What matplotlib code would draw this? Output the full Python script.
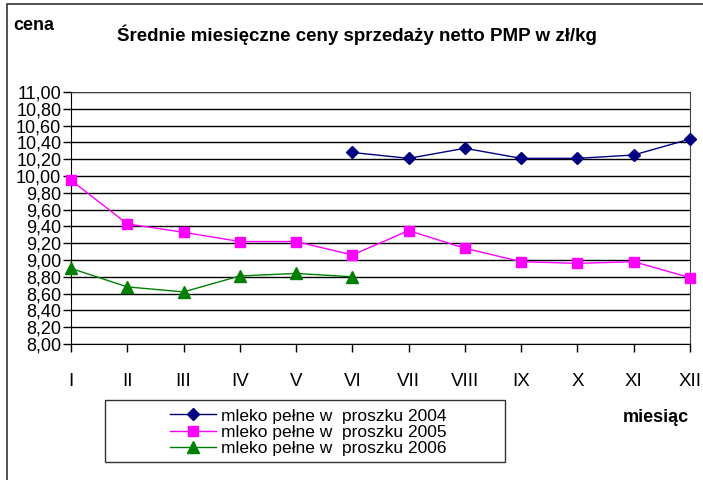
import matplotlib.pyplot as plt
from matplotlib.patches import Rectangle

plt.rcParams['font.family'] = ['Liberation Sans', 'DejaVu Sans']

months = ["I", "II", "III", "IV", "V", "VI", "VII", "VIII", "IX", "X", "XI", "XII"]
ceny_2004 = [None, None, None, None, None, 10.28, 10.21, 10.33, 10.21, 10.21, 10.25, 10.44]
ceny_2005 = [9.95, 9.43, 9.33, 9.22, 9.22, 9.06, 9.35, 9.14, 8.98, 8.96, 8.98, 8.79]
ceny_2006 = [8.90, 8.68, 8.62, 8.81, 8.84, 8.80]
yticks = [8.0 + 0.2 * i for i in range(16)]


def pts(vals):
    xs = [i for i, v in enumerate(vals) if v is not None]
    ys = [v for v in vals if v is not None]
    return xs, ys


fig = plt.figure(figsize=(7.03, 4.8), dpi=100)
ax = fig.add_axes([71 / 703, 1 - 344 / 480, 619 / 703, 252 / 480])

x, y = pts(ceny_2004)
ax.plot(x, y, color="#000080", marker="D", markersize=6, lw=1,
        label="mleko pełne w  proszku 2004", clip_on=False, zorder=4)
x, y = pts(ceny_2005)
ax.plot(x, y, color="#FF00FF", marker="s", markersize=7, lw=1,
        label="mleko pełne w  proszku 2005", clip_on=False, zorder=4)
x, y = pts(ceny_2006)
ax.plot(x, y, color="#008000", marker="^", markersize=8, lw=1,
        label="mleko pełne w  proszku 2006", clip_on=False, zorder=4)

ax.set_xlim(0, 11)
ax.set_ylim(8, 11)
ax.set_yticks(yticks)
ax.set_yticklabels([("%.2f" % t).replace(".", ",") for t in yticks], fontsize=13)
ax.set_xticks(range(len(months)))
ax.set_xticklabels(months, fontsize=13.5)
ax.tick_params(axis="y", direction="out", length=6, width=1, pad=1)
ax.tick_params(axis="x", direction="out", length=6, width=1, pad=15)
ax.yaxis.grid(True, color="black", lw=1)
ax.set_axisbelow(True)
for s in ["top", "right"]:
    ax.spines[s].set_color("#444444")
for s in ["left", "bottom"]:
    ax.spines[s].set_color("black")

fig.text(13 / 703, 1 - 25 / 480, "cena", fontsize=13, fontweight="bold", va="center")
fig.text(357 / 703, 1 - 35 / 480, "Średnie miesięczne ceny sprzedaży netto PMP w zł/kg",
         fontsize=13.5, fontweight="bold", ha="center", va="center")
fig.text(656 / 703, 1 - 418 / 480, "miesiąc", fontsize=13, fontweight="bold",
         ha="center", va="center")

# outer chart border (only top and left visible in the original)
fig.patches.append(Rectangle((7 / 703, -0.1), 1.2, 1 - 4 / 480 + 0.1,
                             transform=fig.transFigure, fill=False,
                             edgecolor="#333333", lw=1.2))
# legend box
fig.patches.append(Rectangle((105 / 703, 1 - 462 / 480), 400 / 703, 62 / 480,
                             transform=fig.transFigure, fill=False,
                             edgecolor="#333333", lw=1))
fig.legend(loc="center", bbox_to_anchor=(308 / 703, 1 - 432 / 480), frameon=False,
           fontsize=12.5, handlelength=2.65, handletextpad=0.3, labelspacing=0.05,
           borderpad=0)

fig.savefig("out.png", dpi=100)
